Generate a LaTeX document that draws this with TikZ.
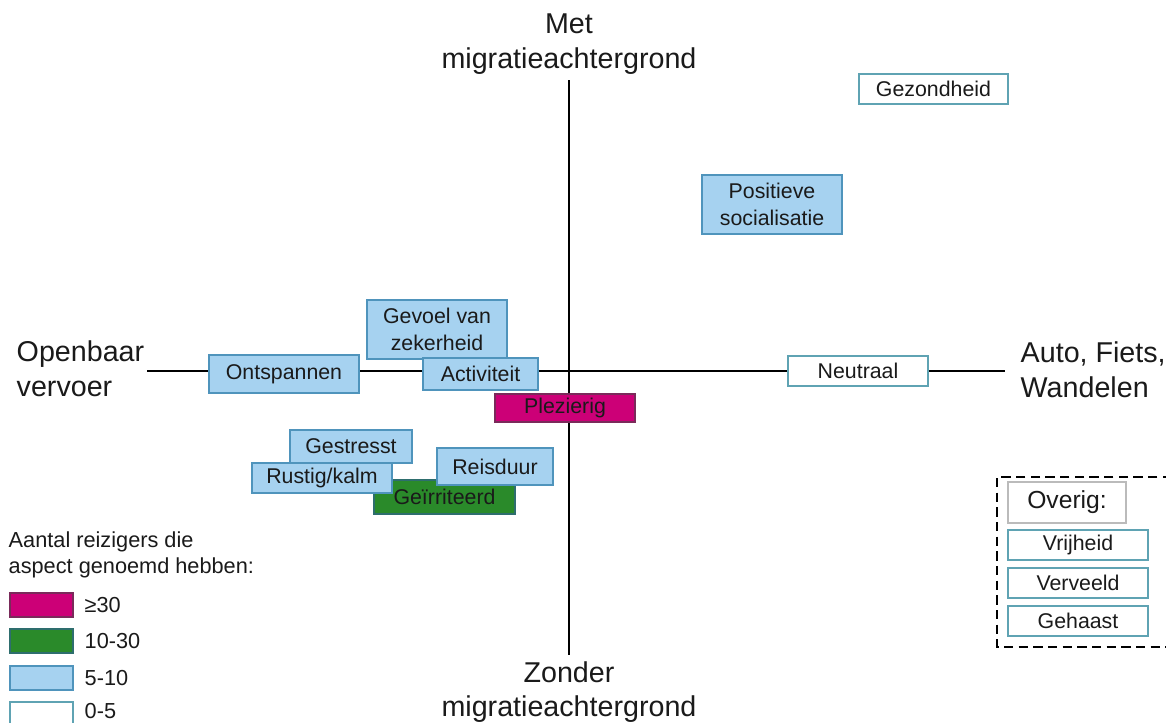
\documentclass[tikz,border=0pt]{standalone}
\usepackage{fontspec}
\setmainfont{Liberation Sans}
\definecolor{lightblue}{HTML}{A6D2F0}
\definecolor{blueedge}{HTML}{4F94BC}
\definecolor{magentafill}{HTML}{CC0077}
\definecolor{magentaedge}{HTML}{7A2A5A}
\definecolor{greenfill}{HTML}{2A8A2A}
\definecolor{greenedge}{HTML}{2E6E6E}
\definecolor{whiteedge}{HTML}{5FA3B3}
\definecolor{grayedge}{HTML}{BBBBBB}
\definecolor{textgray}{HTML}{1A1A1A}
\begin{document}
\begin{tikzpicture}[x=0.75pt,y=-0.75pt,
  axis/.style={line width=1.5pt,black},
  axislabel/.style={font=\fontsize{21.5}{26}\selectfont,align=center,text=textgray},
  tag/.style={draw,line width=0.9pt,font=\fontsize{16}{20}\selectfont,align=center,inner sep=0pt,text=textgray},
  bluetag/.style={tag,fill=lightblue,draw=blueedge},
  pinktag/.style={tag,fill=magentafill,draw=magentaedge},
  greentag/.style={tag,fill=greenfill,draw=greenedge},
  whitetag/.style={tag,fill=white,draw=whiteedge},
  legendtext/.style={font=\fontsize{16.3}{20}\selectfont,anchor=west,align=left,text=textgray},
  box/.style args={#1,#2,#3,#4}{minimum width=#3*0.75pt-#1*0.75pt,minimum height=#4*0.75pt-#2*0.75pt}
]
\useasboundingbox (0,0) rectangle (1166,722);

% axes
\coordinate (ytop) at (569,80);
\coordinate (ybot) at (569,655);
\coordinate (xleft) at (147,371);
\coordinate (xright) at (1005,371);
\draw[axis] (ytop) -- (ybot);
\draw[axis] (xleft) -- (xright);

% axis labels
\node[axislabel] (met) at (569,44) {Met\\migratieachtergrond};
\node[axislabel] (zonder) at (569,692) {Zonder\\migratieachtergrond};
\node[axislabel,anchor=west,align=left] (ov) at (12,369) {Openbaar\\vervoer};
\node[axislabel,anchor=west,align=left] (afw) at (1016,370) {Auto, Fiets,\\Wandelen};

% aspects
\node[whitetag,box={859,74,1008,104}] (gezond) at (933.5,89) {Gezondheid};
\node[bluetag,box={702,175,842,234}] (posit) at (772,204.5) {Positieve\\socialisatie};
\node[bluetag,box={367,300,507,359}] (gevoel) at (437,329.5) {Gevoel van\\zekerheid};
\node[bluetag,box={209,355,359,393}] (ontsp) at (284,374) {Ontspannen};
\node[bluetag,box={423,358,538,390}] (activ) at (480.5,374) {Activiteit};
\node[pinktag,box={495,394,635,422}] (plez) at (565,408) {Plezierig};
\node[whitetag,box={788,356,928,386}] (neutr) at (858,371) {Neutraal};
\node[greentag,box={374,480,515,514}] (geirr) at (444.5,497) {Geïrriteerd};
\node[bluetag,box={290,430,412,463}] (gestr) at (351,446.5) {Gestresst};
\node[bluetag,box={252,463,392,493}] (rustig) at (322,478) {Rustig/kalm};
\node[bluetag,box={437,448,553,485}] (reis) at (495,466.5) {Reisduur};

% legend
\node[legendtext] (legtitle) at (4,555) {Aantal reizigers die\\aspect genoemd hebben:};
\node[pinktag,box={10,593,73,617}] (sw1) at (41.5,605) {};
\node[greentag,box={10,629,73,653}] (sw2) at (41.5,641) {};
\node[bluetag,box={10,666,73,690}] (sw3) at (41.5,678) {};
\node[whitetag,box={10,702,73,726}] (sw4) at (41.5,714) {};
\node[legendtext] (l1) at (80,605) {≥30};
\node[legendtext] (l2) at (80,641) {10-30};
\node[legendtext] (l3) at (80,678) {5-10};
\node[legendtext] (l4) at (80,711) {0-5};

% other aspects
\draw[line width=1.1pt,dash pattern=on 7pt off 4pt] (1172,477) -- (997,477) -- (997,647) -- (1172,647);
\node[tag,draw=grayedge,fill=white,box={1008,482,1126,523},font=\fontsize{18.5}{22}\selectfont] (overig) at (1067,502.5) {Overig:};
\node[whitetag,box={1008,530,1148,560}] (vrij) at (1078,545) {Vrijheid};
\node[whitetag,box={1008,568,1148,598}] (verv) at (1078,583) {Verveeld};
\node[whitetag,box={1008,606,1148,636}] (gehaast) at (1078,621) {Gehaast};
\end{tikzpicture}
\end{document}
